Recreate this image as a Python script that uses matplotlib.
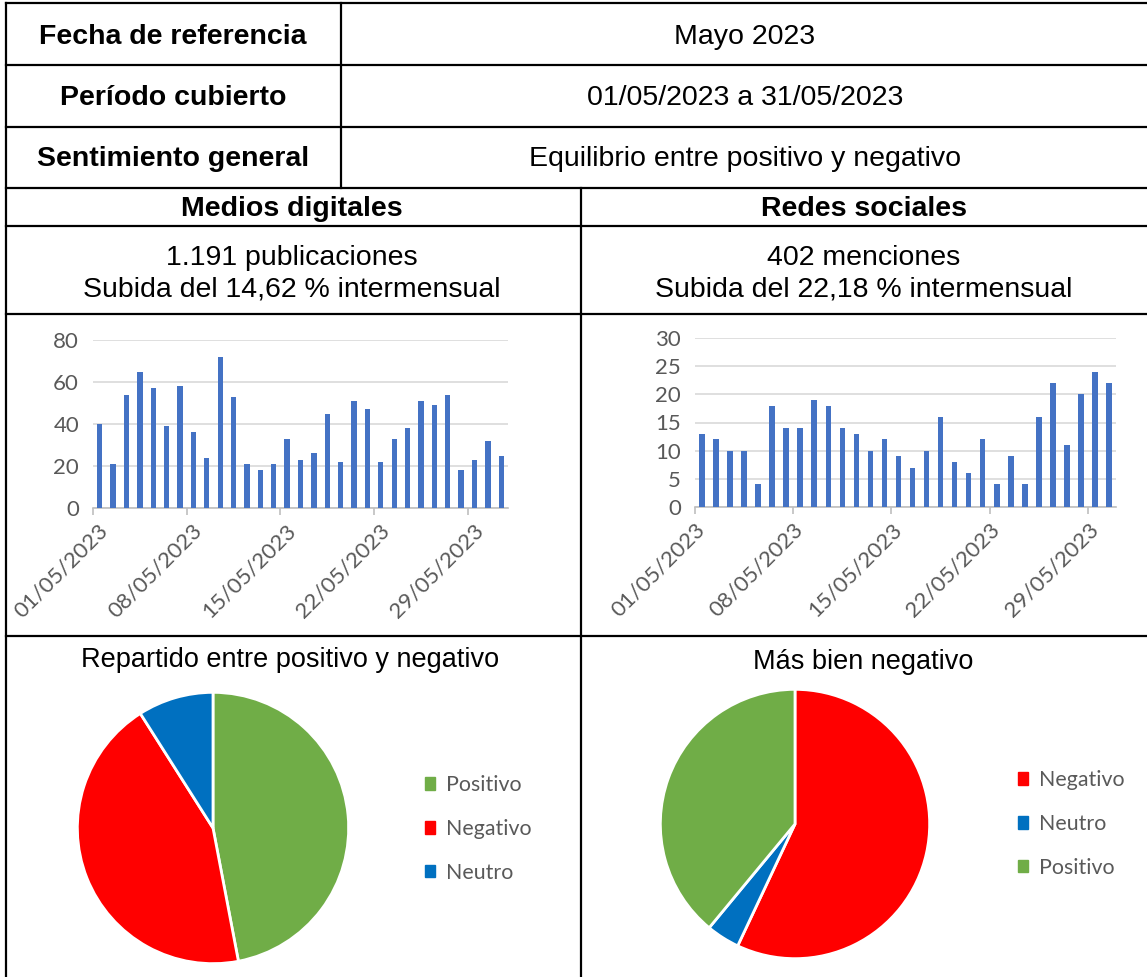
import numpy as np
import matplotlib
matplotlib.use('Agg')
import matplotlib.pyplot as plt
from matplotlib.patches import Patch
from matplotlib.transforms import ScaledTranslation

W, H = 1147, 977

# header table
row_labels = ['Fecha de referencia', 'Período cubierto', 'Sentimiento general']
row_values = ['Mayo 2023', '01/05/2023 a 31/05/2023', 'Equilibrio entre positivo y negativo']
col_titles = ['Medios digitales', 'Redes sociales']
col_lines = [['1.191 publicaciones', 'Subida del 14,62 % intermensual'],
             ['402 menciones', 'Subida del 22,18 % intermensual']]

# daily volume, May 2023
medios_days = list(range(1, 32))
medios_vals = [40, 21, 54, 65, 57, 39, 58, 36, 24, 72, 53, 21, 18, 21, 33, 23,
               26, 45, 22, 51, 47, 22, 33, 38, 51, 49, 54, 18, 23, 32, 25]
redes_days = list(range(1, 31))
redes_vals = [13, 12, 10, 10, 4, 18, 14, 14, 19, 18, 14, 13, 10, 12, 9, 7,
              10, 16, 8, 6, 12, 4, 9, 4, 16, 22, 11, 20, 24, 22]
tick_days = [1, 8, 15, 22, 29]
tick_labels = ['01/05/2023', '08/05/2023', '15/05/2023', '22/05/2023', '29/05/2023']

# sentiment
pie_titles = ['Repartido entre positivo y negativo', 'Más bien negativo']
medios_sent = ['Positivo', 'Negativo', 'Neutro']
medios_share = [47, 44, 9]
redes_sent = ['Negativo', 'Neutro', 'Positivo']
redes_share = [57, 4, 39]
sent_colors = {'Positivo': '#70AD47', 'Negativo': '#FF0000', 'Neutro': '#0070C0'}

fig = plt.figure(figsize=(W / 100, H / 100), dpi=100)


def px_axes(x0, y0, x1, y1):
    return fig.add_axes([x0 / W, 1 - y1 / H, (x1 - x0) / W, (y1 - y0) / H])


# background: grid lines and text of the table
bg = fig.add_axes([0, 0, 1, 1])
bg.set_xlim(0, W)
bg.set_ylim(H, 0)
bg.axis('off')
lw = 1.6
for y in [3, 65, 127, 188, 226, 314, 636]:
    bg.plot([6, W], [y, y], color='black', lw=lw)
bg.plot([6, 6], [3, H], color='black', lw=lw)
bg.plot([341, 341], [3, 188], color='black', lw=lw)
bg.plot([581, 581], [188, H], color='black', lw=lw)

font = 'Liberation Sans'
fs = 20.5
for i, (lab, val) in enumerate(zip(row_labels, row_values)):
    yc = 37 + i * 61
    bg.text(173, yc, lab, ha='center', va='center', fontsize=fs, fontweight='bold', family=font)
    bg.text(745, yc, val, ha='center', va='center', fontsize=fs, family=font)
for xc, t, lines in zip([292, 864], col_titles, col_lines):
    bg.text(xc, 209, t, ha='center', va='center', fontsize=fs, fontweight='bold', family=font)
    bg.text(xc, 258, lines[0], ha='center', va='center', fontsize=fs, family=font)
    bg.text(xc, 290, lines[1], ha='center', va='center', fontsize=fs, family=font)

# bar charts
gray = '#595959'
chart_font = 'Lato'


def bar_chart(box, days, vals, ymax, step, shift):
    ax = px_axes(*box)
    ax.bar(days, vals, width=0.4, color='#4472C4', zorder=3)
    ax.set_xlim(0.5, len(days) + 0.5)
    ax.set_ylim(0, ymax)
    ax.set_yticks(np.arange(0, ymax + 1, step))
    ax.set_xticks([d - 0.5 for d in tick_days])
    ax.set_xticklabels(tick_labels, rotation=45, ha='right', rotation_mode='anchor')
    ax.grid(axis='y', color='#D9D9D9', lw=1.2, zorder=0)
    for s in ['top', 'right', 'left']:
        ax.spines[s].set_visible(False)
    ax.spines['bottom'].set_color('#BFBFBF')
    ax.spines['bottom'].set_linewidth(1.2)
    ax.tick_params(axis='y', length=0, pad=10, labelsize=16, labelcolor=gray)
    ax.tick_params(axis='x', length=5, color='#BFBFBF', width=1.2, pad=4, labelsize=16, labelcolor=gray)
    off = ScaledTranslation(shift / 100, 0, fig.dpi_scale_trans)
    for t in ax.get_xticklabels():
        t.set_transform(t.get_transform() + off)
    for t in ax.get_xticklabels() + ax.get_yticklabels():
        t.set_family(chart_font)
    return ax


bar_chart((93, 340, 508, 508), medios_days, medios_vals, 80, 20, 5)
bar_chart((695, 338, 1116, 507), redes_days, redes_vals, 30, 5, 0)


# pies
def pie_chart(box, labels, shares, title, title_xy, legend_xy):
    ax = px_axes(*box)
    ax.pie(shares, colors=[sent_colors[l] for l in labels], startangle=90, counterclock=False,
           wedgeprops=dict(edgecolor='white', linewidth=2))
    ax.set_xlim(-1.01, 1.01)
    ax.set_ylim(-1.01, 1.01)
    bg.text(title_xy[0], title_xy[1], title, ha='center', va='center', fontsize=19.5, family=font)
    handles = [Patch(color=sent_colors[l], label=l) for l in labels]
    leg = fig.legend(handles=handles, loc='center left',
                     bbox_to_anchor=(legend_xy[0] / W, 1 - legend_xy[1] / H),
                     frameon=False, fontsize=15.4, handlelength=0.5, handleheight=0.5,
                     handletextpad=0.5, labelspacing=1.12, borderpad=0)
    for t in leg.get_texts():
        t.set_color(gray)
        t.set_family(chart_font)


pie_chart((76, 691, 350, 965), medios_sent, medios_share, pie_titles[0], (290, 660), (414, 829))
pie_chart((659, 688, 931, 960), redes_sent, redes_share, pie_titles[1], (863, 662), (1007, 824))

fig.savefig('out.png', dpi=100)
